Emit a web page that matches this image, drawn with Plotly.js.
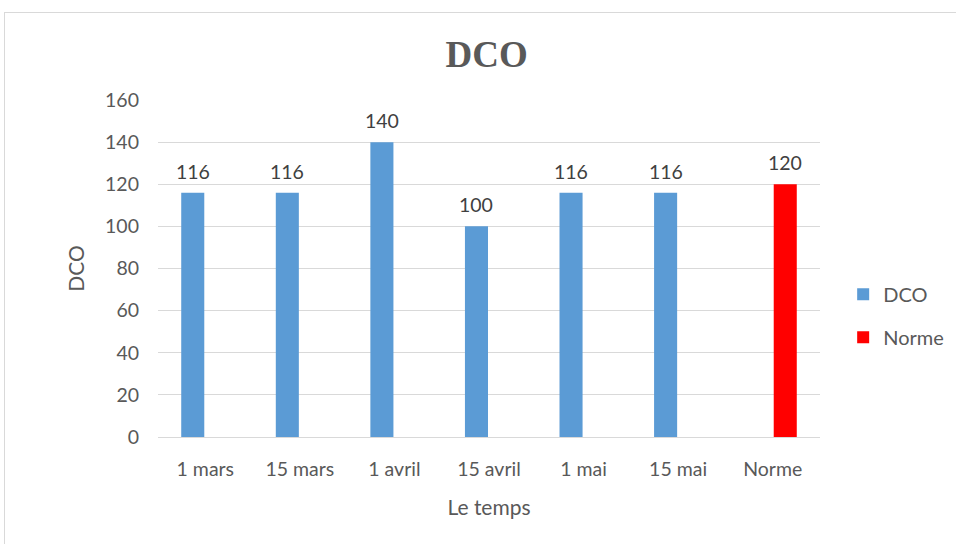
<!DOCTYPE html>
<html><head><meta charset="utf-8">
<script src="https://cdn.plot.ly/plotly-3.0.1.min.js"></script>
<style>
html,body{margin:0;padding:0;background:#fff;}
#wrap{position:relative;width:956px;height:544px;overflow:hidden;}
#chart{width:956px;height:544px;}
#frame{position:absolute;left:4px;top:12px;width:960px;height:560px;border:1px solid #d9d9d9;pointer-events:none;}
</style></head>
<body>
<div id="wrap"><div id="chart"></div><div id="frame"></div></div>
<script>
const categories = ["1 mars","15 mars","1 avril","15 avril","1 mai","15 mai","Norme"];
const dcoValues = [116,116,140,100,116,116,null];
const normeValues = [null,null,null,null,null,null,120];
const yTicks = [0,20,40,60,80,100,120,140,160];

const labelFont = {family:"Lato, 'Open Sans', sans-serif", size:19.5, color:"#404040"};

const traces = [
  {type:"bar", name:"DCO", x:categories, y:dcoValues, legendgroup:"a",
   marker:{color:"#5b9bd5"}, hoverinfo:"x+y"},
  {type:"bar", name:"Norme", x:categories, y:normeValues, legendgroup:"b",
   marker:{color:"#ff0000"}, hoverinfo:"x+y"}
];

const bargap = 0.47, bargroupgap = 0.08;
// offset of each series' slot within a category group (in category units)
const slot = (1 - bargap) / 2;
const annotations = [];
[[dcoValues, -0.5], [normeValues, 0.5]].forEach(([vals, side]) => {
  vals.forEach((v, i) => {
    if (v === null) return;
    annotations.push({x: i + side * slot, y: v, xref:"x", yref:"y", text:String(v),
      showarrow:false, yanchor:"bottom", yshift:8, font:labelFont});
  });
});

const layout = {
  width:956, height:544,
  margin:{l:158, r:136, t:100, b:107, autoexpand:false},
  paper_bgcolor:"#fff", plot_bgcolor:"#fff",
  barmode:"group", bargap:bargap, bargroupgap:bargroupgap,
  title:{text:"<b>DCO</b>", x:0.509, xanchor:"center", y:0.9, yanchor:"middle",
         font:{family:"'Liberation Serif','Times New Roman',serif", size:37, color:"#595959"}},
  font:{family:"Lato, 'Open Sans', sans-serif", size:19.5, color:"#595959"},
  xaxis:{type:"category", showgrid:false, showline:true, linecolor:"#d9d9d9", linewidth:1,
         ticks:"", tickfont:{size:19.5, color:"#595959"}, ticklabelstandoff:15,
         title:{text:"Le temps", font:{size:21, color:"#595959"}, standoff:20}},
  yaxis:{range:[0,160], tickvals:yTicks, showgrid:true, gridcolor:"#d9d9d9", gridwidth:1,
         zeroline:false, showline:false, ticks:"", ticklen:0, ticklabelstandoff:18,
         tickfont:{size:19.5, color:"#595959"},
         title:{text:"DCO", font:{size:21, color:"#595959"}, standoff:14}},
  legend:{x:1.035, xanchor:"left", y:0.36, yanchor:"middle", traceorder:"grouped",
          tracegroupgap:14, font:{size:20, color:"#595959"}, itemwidth:30},
  annotations:annotations,
  showlegend:true
};

Plotly.newPlot("chart", traces, layout, {displayModeBar:false, staticPlot:true});
</script>
</body></html>
